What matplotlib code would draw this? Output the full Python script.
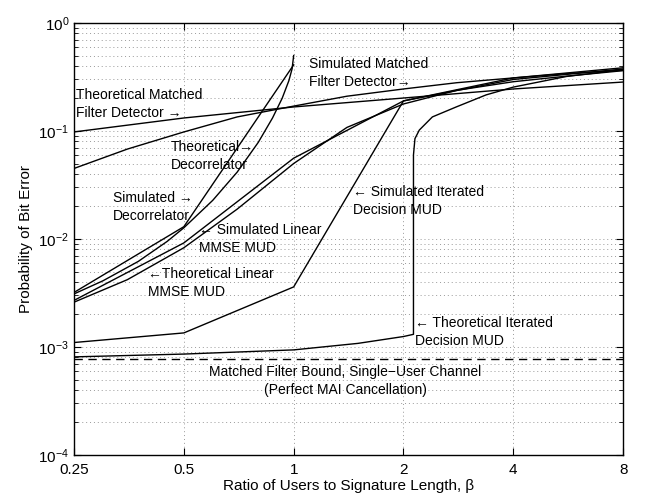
import matplotlib
matplotlib.use("Agg")
import matplotlib.pyplot as plt
from matplotlib.ticker import FixedLocator, FixedFormatter, NullLocator, LogLocator

plt.rcParams['font.family'] = ['Liberation Sans', 'DejaVu Sans']
plt.rcParams['mathtext.fontset'] = 'custom'
plt.rcParams['mathtext.rm'] = 'Liberation Sans'
plt.rcParams['mathtext.it'] = 'Liberation Sans:italic'

# == data ==
beta_oct = [0.25, 0.5, 1, 2, 4, 8]
beta_fine = [0.25, 0.35, 0.5, 0.7, 1, 1.4, 2, 2.8, 4, 5.6, 8]

mf_upper = [0.098, 0.132, 0.167, 0.202, 0.245, 0.284]
mf_theory = [0.045, 0.068, 0.098, 0.135, 0.17, 0.21, 0.245, 0.28, 0.31, 0.34, 0.365]

dec_beta = [0.25, 0.3, 0.375, 0.45, 0.5, 0.6, 0.7, 0.8, 0.875, 0.93, 0.97, 0.99, 1.0]
dec_theory = [0.0031, 0.0041, 0.0062, 0.0095, 0.0127, 0.0228, 0.0416, 0.0786, 0.132, 0.201, 0.292, 0.376, 0.5]
dec_sim_beta = [0.25, 0.5, 1]
dec_sim = [0.0032, 0.013, 0.41]

mmse_theory = [0.0026, 0.0042, 0.0083, 0.0189, 0.050, 0.108, 0.178, 0.238, 0.286, 0.322, 0.362]
mmse_sim = [0.0027, 0.0092, 0.056, 0.19, 0.30, 0.375]

iter_sim = [0.0011, 0.00135, 0.0036, 0.19, 0.31, 0.385]
iter_beta = [0.25, 0.5, 1, 1.5, 2, 2.13, 2.13, 2.15, 2.21, 2.4, 2.79, 3.37, 4, 5.6, 8]
iter_theory = [0.00081, 0.00086, 0.00094, 0.00108, 0.00125, 0.00131, 0.06, 0.085, 0.102,
               0.135, 0.167, 0.216, 0.255, 0.32, 0.37]

mf_bound = 0.00078

x_ticks = [0.25, 0.5, 1, 2, 4, 8]
x_labels = ['0.25', '0.5', '1', '2', '4', '8']

# == plot ==
fig = plt.figure(figsize=(6.46, 4.99), dpi=100)
ax = fig.add_axes([0.1146, 0.0882, 0.85, 0.8657])

lw = 1.0
ax.plot(beta_oct, mf_upper, color='k', lw=lw)
ax.plot(beta_fine, mf_theory, color='k', lw=lw)
ax.plot(dec_beta, dec_theory, color='k', lw=lw)
ax.plot(dec_sim_beta, dec_sim, color='k', lw=lw)
ax.plot(beta_fine, mmse_theory, color='k', lw=lw)
ax.plot(beta_oct, mmse_sim, color='k', lw=lw)
ax.plot(beta_oct, iter_sim, color='k', lw=lw)
ax.plot(iter_beta, iter_theory, color='k', lw=lw)
ax.axhline(mf_bound, color='k', lw=lw, ls=(0, (6, 4)))

ax.set_xscale('log', base=2)
ax.set_yscale('log')
ax.set_xlim(0.25, 8)
ax.set_ylim(1e-4, 1)
ax.xaxis.set_major_locator(FixedLocator(x_ticks))
ax.xaxis.set_major_formatter(FixedFormatter(x_labels))
ax.xaxis.set_minor_locator(NullLocator())
ax.yaxis.set_major_locator(LogLocator(base=10, numticks=10))
ax.yaxis.set_minor_locator(LogLocator(base=10, subs=range(2, 10), numticks=10))

grid_style = dict(ls=(0, (1, 3)), color='#999999', lw=0.7)
ax.grid(True, which='major', **grid_style)
ax.grid(True, which='minor', axis='y', **grid_style)
ax.tick_params(which='both', direction='in', top=True, right=True, labelsize=11)
ax.tick_params(which='major', length=5)
ax.tick_params(which='minor', length=3)
ax.tick_params(axis='x', pad=6)
for s in ax.spines.values():
    s.set_linewidth(1.0)

ax.set_xlabel('Ratio of Users to Signature Length, β', fontsize=11, labelpad=1)
ax.set_ylabel('Probability of Bit Error', fontsize=11, labelpad=4)

# == labels ==
fs = 10
def lab(px, py, txt, ha='left'):
    # place text by pixel position of the reference
    ax.text(px / 646, 1 - py / 499, txt, transform=fig.transFigure, fontsize=fs,
            ha=ha, va='center', linespacing=1.35)

lab(76, 104, 'Theoretical Matched\nFilter Detector →')
lab(309, 73, 'Simulated Matched\nFilter Detector→')
lab(171, 156, 'Theoretical→\nDecorrelator')
lab(113, 207, 'Simulated →\nDecorrelator')
lab(199, 239, '← Simulated Linear\nMMSE MUD')
lab(148, 283, '←Theoretical Linear\nMMSE MUD')
lab(353, 201, '← Simulated Iterated\nDecision MUD')
lab(415, 332, '← Theoretical Iterated\nDecision MUD')
lab(345, 381, 'Matched Filter Bound, Single−User Channel\n(Perfect MAI Cancellation)', ha='center')

fig.savefig('out.png', dpi=100)
